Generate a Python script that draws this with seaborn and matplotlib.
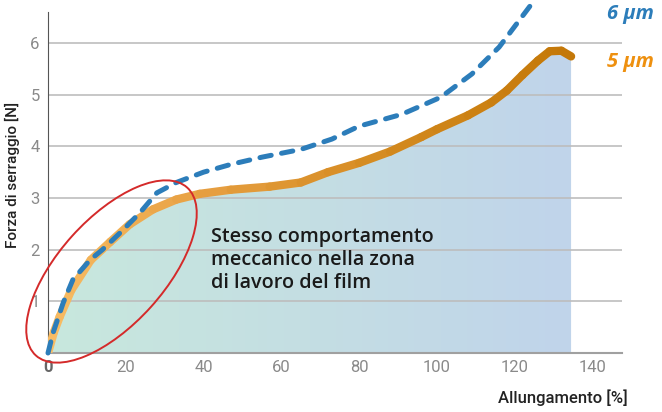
#Grafico forza di serraggio vs allungamento per film da 5 e 6 micron
import numpy as np
import matplotlib.pyplot as plt
import seaborn as sns
from matplotlib.collections import LineCollection
from matplotlib.colors import LinearSegmentedColormap
from matplotlib.patches import Ellipse

sns.set_style("white")
plt.rcParams['font.family'] = ['Roboto', 'DejaVu Sans']

#dati
x_5um = [0, 1.5, 3, 6, 11, 16, 21, 27, 33, 39, 47, 57, 65, 72, 80, 88, 96, 100,
         108, 114, 118, 122, 126, 129, 132, 134.5]
y_5um = [0, 0.4, 0.7, 1.22, 1.8, 2.15, 2.49, 2.78, 2.97, 3.08, 3.16, 3.22, 3.3,
         3.5, 3.68, 3.9, 4.18, 4.33, 4.6, 4.85, 5.08, 5.38, 5.66, 5.84, 5.85, 5.74]

x_6um = [0, 1.3, 3.9, 6.4, 10.8, 14, 18.6, 23.7, 28, 33, 40, 47, 55, 65, 73, 80,
         91, 101, 109, 116, 124]
y_6um = [0, 0.39, 0.97, 1.42, 1.8, 2.0, 2.33, 2.72, 3.1, 3.3, 3.5, 3.65, 3.79,
         3.94, 4.14, 4.39, 4.62, 4.95, 5.4, 5.92, 6.72]

x_ticks = [0, 20, 40, 60, 80, 100, 120, 140]
y_ticks = [1, 2, 3, 4, 5, 6]

blue = "#2C7DBA"
orange = "#EE900F"

fig = plt.figure(figsize=(6.62, 4.12), dpi=100)
ax = fig.add_axes([48/662, 59/412, 574/662, 350/412])
ax.set_xlim(0, 574/3.889)
ax.set_ylim(0, 350/51.67)

#riempimento sfumato sotto la curva 5 um
fill_cmap = LinearSegmentedColormap.from_list("fill", ["#C8E8DD", "#C4DEE3", "#C0D4EB"])
poly = ax.fill_between(x_5um, y_5um, color="none", lw=0)
grad = np.linspace(0, 1, 256).reshape(1, -1)
im = ax.imshow(grad, cmap=fill_cmap, aspect="auto", zorder=0,
               extent=[0, max(x_5um), 0, max(y_5um)], origin="lower")
im.set_clip_path(poly.get_paths()[0], ax.transData)

#curva 5 um con sfumatura arancione
line_cmap = LinearSegmentedColormap.from_list("line", ["#F8BC64", "#E59D3E", "#D3891E", "#C47808"])
pts = np.column_stack([x_5um, y_5um])
segs = np.stack([pts[:-1], pts[1:]], axis=1)
mid = (pts[:-1, 0] + pts[1:, 0]) / 2
lc = LineCollection(segs, colors=line_cmap(mid / max(x_5um)), linewidths=6,
                    capstyle="round", joinstyle="round", zorder=3)
ax.add_collection(lc)

#curva 6 um tratteggiata
sns.lineplot(x=x_6um, y=y_6um, ax=ax, color=blue, lw=3.6, sort=False,
             linestyle=(0, (2.3, 2.1)), dash_capstyle="round", zorder=4, clip_on=False)

#griglia e assi
ax.set_yticks(y_ticks)
ax.set_xticks(x_ticks)
ax.yaxis.grid(True, color="#BDBDBD", lw=1.2)
ax.xaxis.grid(False)
ax.set_axisbelow("line")
ax.tick_params(axis="both", length=0, labelsize=12, labelcolor="#8A8A8A")
ax.tick_params(axis="y", pad=6)
ax.tick_params(axis="x", pad=5)
ax.get_xticklabels()[0].set_fontweight("bold")
ax.get_xticklabels()[0].set_color("#666666")
for s in ["top", "right"]:
    ax.spines[s].set_visible(False)
ax.spines["left"].set_color("#555555")
ax.spines["left"].set_bounds(0, 6.6)
ax.spines["bottom"].set_color("#A0A0A0")
ax.spines["bottom"].set_linewidth(1.5)
ax.set_xlabel("")
ax.set_ylabel("")

fig.text(12.7/662, 1 - 175/412, "Forza di serraggio [N]", rotation=90,
         ha="center", va="center", fontsize=11, fontweight="medium", color="#222222")
fig.text(628/662, 1 - 398/412, "Allungamento [%]", ha="right", va="center",
         fontsize=12, fontweight="medium", color="#222222")

#etichette delle curve
fig.text(607/662, 1 - 14/412, "6 µm", color=blue, fontsize=14.5, fontweight="bold",
         fontstyle="italic", family=["Open Sans", "DejaVu Sans"], ha="left", va="center")
fig.text(607/662, 1 - 62/412, "5 µm", color=orange, fontsize=14.5, fontweight="bold",
         fontstyle="italic", family=["Open Sans", "DejaVu Sans"], ha="left", va="center")

#nota ed ellisse
ax.text(42, 2.44, "Stesso comportamento\nmeccanico nella zona\ndi lavoro del film",
        ha="left", va="top", fontsize=14.2, fontweight="semibold", color="#1A1A1A",
        family=["Open Sans", "DejaVu Sans"], linespacing=1.2, zorder=5)
ell = Ellipse((111.5/100, 140.5/100), width=2.26, height=1.06, angle=48,
              transform=fig.dpi_scale_trans, fill=False, ec="#D42A2A", lw=1.4, zorder=6)
fig.add_artist(ell)

plt.savefig("out.png", dpi=100)
